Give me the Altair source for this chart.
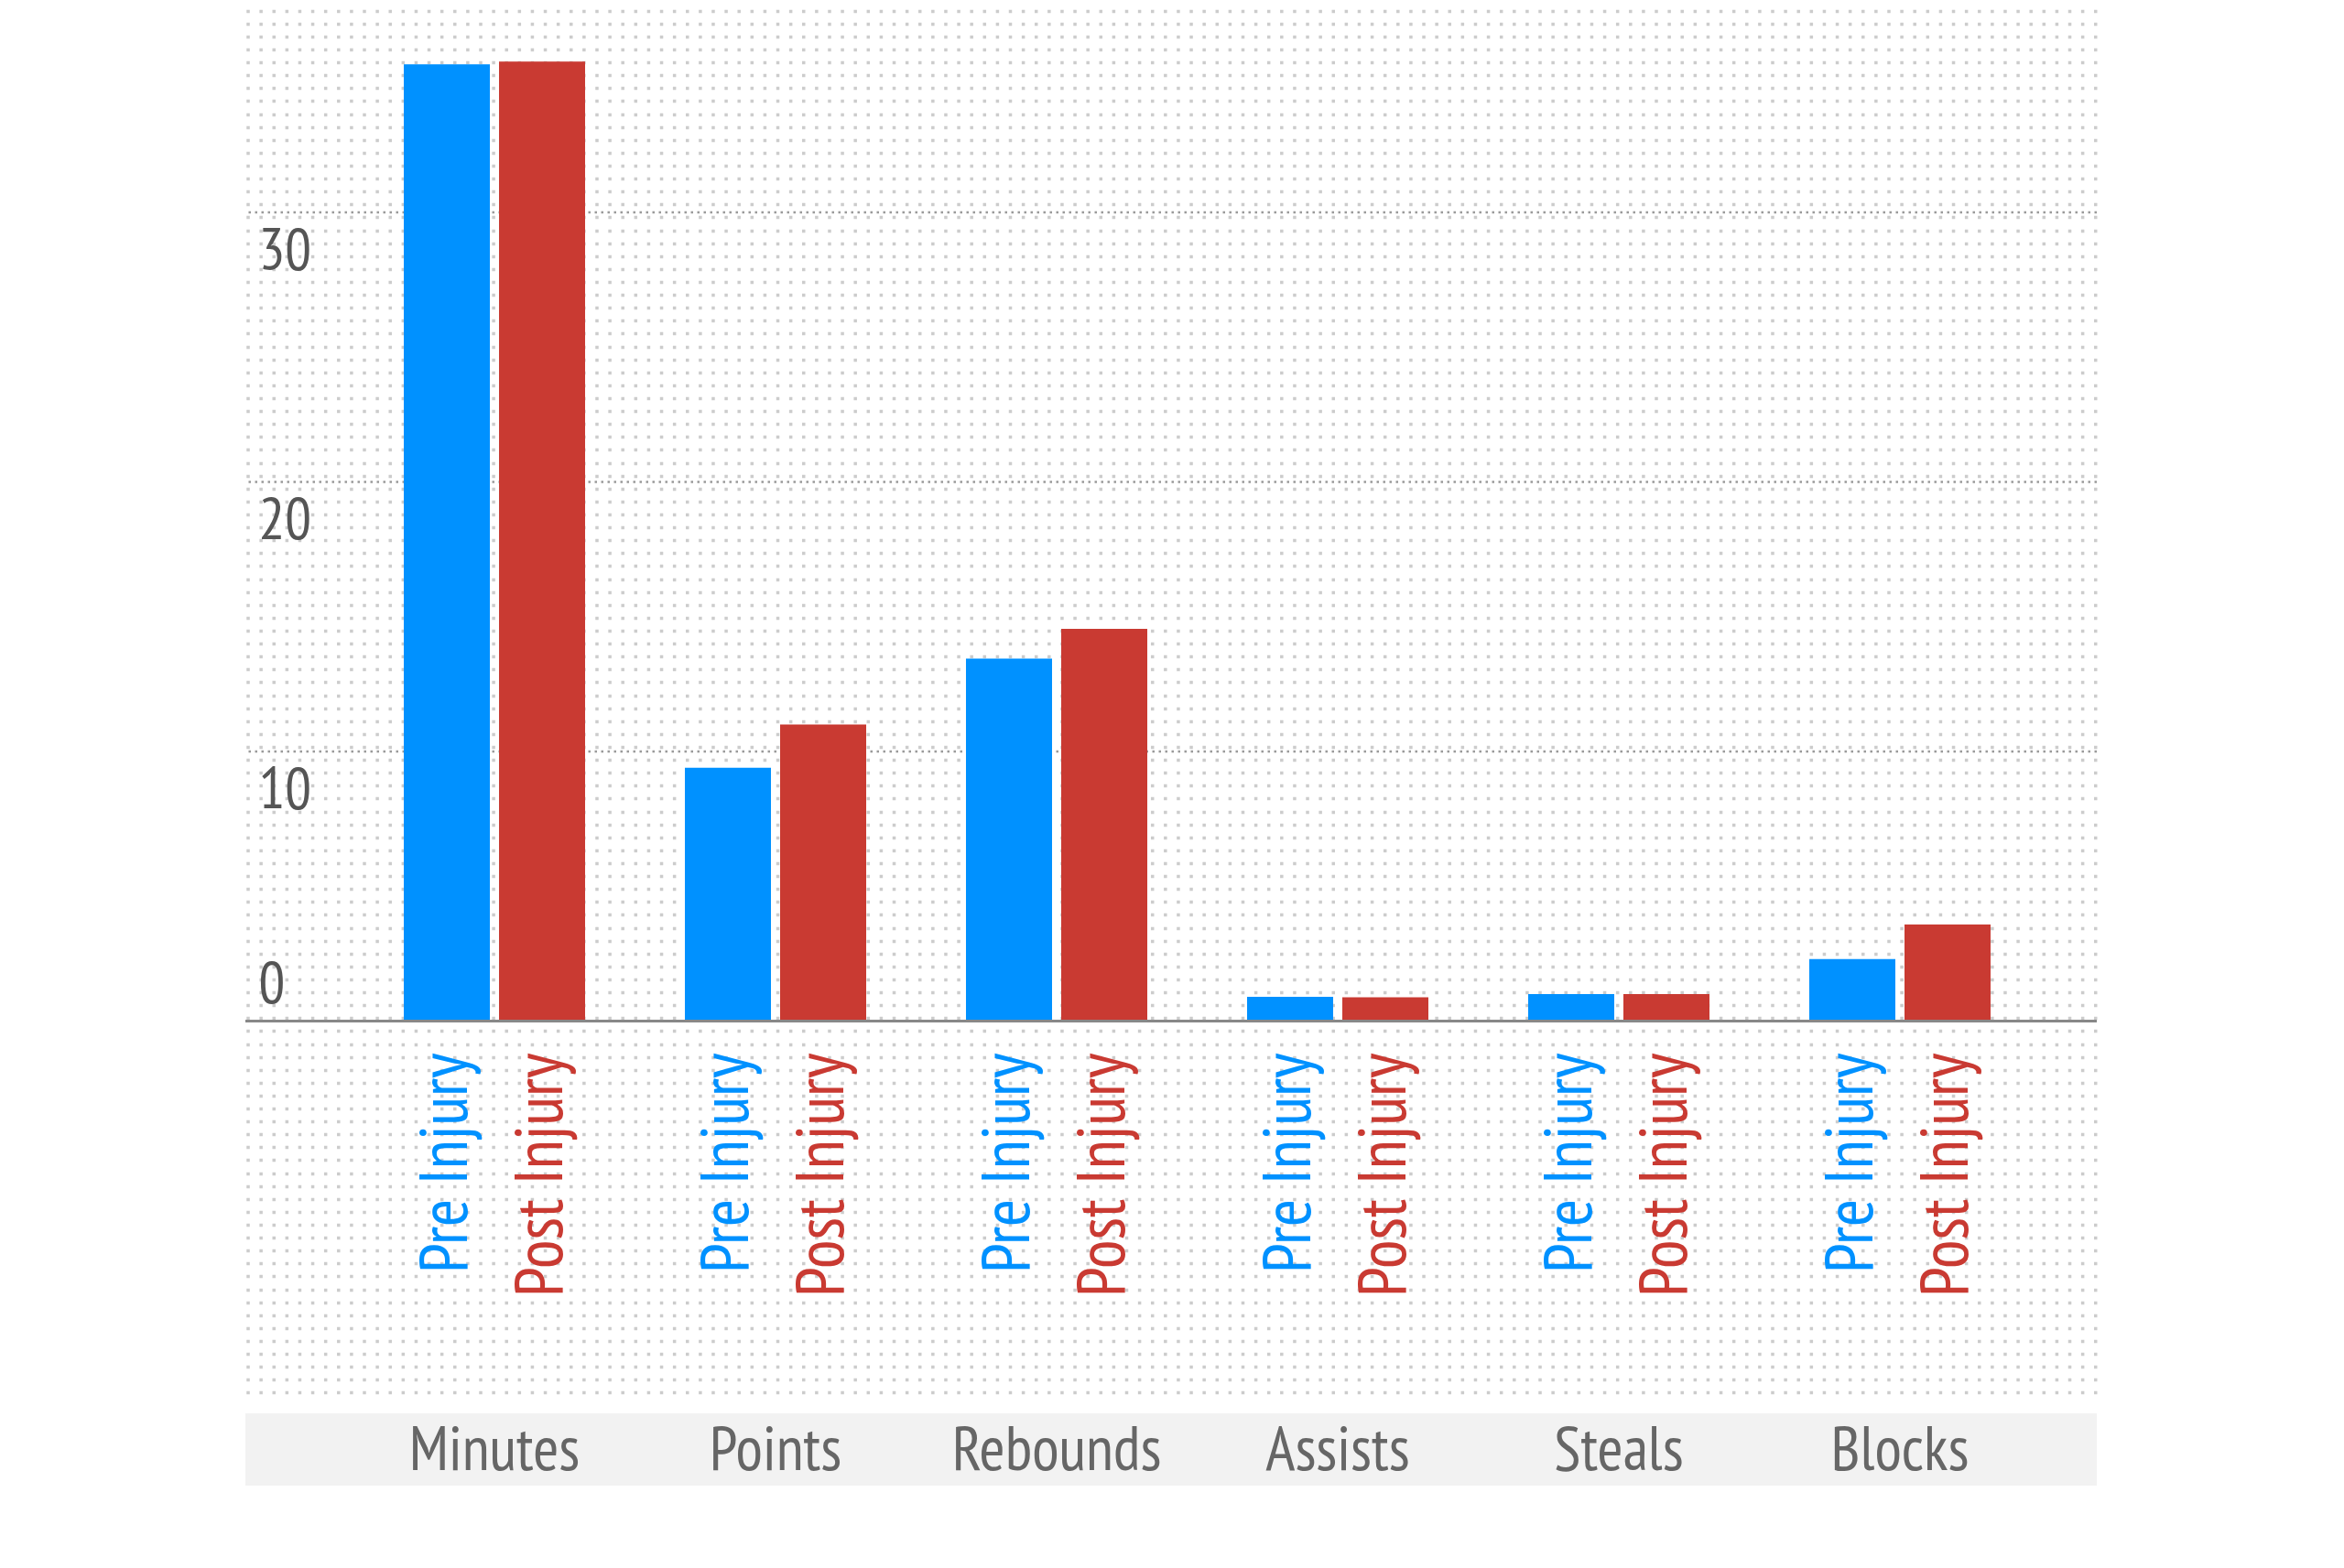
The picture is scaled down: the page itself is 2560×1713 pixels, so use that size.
import altair as alt
import pandas as pd

categories = ["Minutes", "Points", "Rebounds", "Assists", "Steals", "Blocks"]
series = ["Pre Injury", "Post Injury"]
pre_values = [35.5, 9.4, 13.45, 0.9, 1.0, 2.3]
post_values = [35.6, 11.0, 14.55, 0.88, 1.0, 3.58]
y_ticks = [0, 10, 20, 30]
series_colors = ["#0091ff", "#c93a32"]

rows = []
for c, a, b in zip(categories, pre_values, post_values):
    rows.append({"stat": c, "period": series[0], "value": a})
    rows.append({"stat": c, "period": series[1], "value": b})
df = pd.DataFrame(rows)

W, H = 2022, 1520
FONT = "Liberation Sans Narrow, PT Sans Narrow, Roboto, sans-serif"

y_scale = alt.Scale(domain=[-14.01, 37.61], nice=False, zero=False)
x_scale = alt.Scale(range=[118.5, 1960.5], paddingInner=0.355, paddingOuter=0.1775)
xoff_scale = alt.Scale(paddingInner=0.0962, paddingOuter=0)
color_scale = alt.Scale(domain=series, range=series_colors)

x_axis = alt.Axis(
    title=None, labelAngle=0, ticks=False, tickSize=0, domain=False, grid=False,
    labelFont=FONT, labelFontSize=68, labelColor="#666666", labelLimit=0,
    labelBaseline="alphabetic", labelPadding=77, zindex=2,
)
y_axis = alt.Axis(
    title=None, values=y_ticks, grid=False, ticks=False, tickSize=0, domain=False,
    labelAlign="left", labelPadding=-14, labelFont=FONT, labelFontSize=64,
    labelColor="#555555", labelBaseline="top", labelLimit=0,
    labelOffset={"condition": {"test": "datum.value == 0", "value": -72}, "value": 10},
)

base = alt.Chart(df)

grid_rules = alt.Chart(pd.DataFrame({"value": y_ticks[1:]})).mark_rule(
    color="#9a9a9a", strokeWidth=2.5, strokeDash=[2.5, 4.5]
).encode(y=alt.Y("value:Q", scale=y_scale, axis=y_axis))

bars = base.mark_bar().encode(
    x=alt.X("stat:N", sort=categories, scale=x_scale, axis=x_axis),
    xOffset=alt.XOffset("period:N", sort=series, scale=xoff_scale),
    y=alt.Y("value:Q", scale=y_scale, axis=y_axis),
    color=alt.Color("period:N", sort=series, scale=color_scale, legend=None),
)

baseline = alt.Chart(pd.DataFrame({"value": [0]})).mark_rule(color="#888888", strokeWidth=3).encode(
    y=alt.Y("value:Q", scale=y_scale, axis=y_axis)
)

labels = base.mark_text(
    angle=270, align="right", baseline="middle", dx=-35, font=FONT, fontSize=73
).encode(
    x=alt.X("stat:N", sort=categories, scale=x_scale, axis=x_axis),
    xOffset=alt.XOffset("period:N", sort=series, scale=xoff_scale),
    y=alt.Y("z:Q", scale=y_scale, axis=y_axis),
    text="period:N",
    color=alt.Color("period:N", sort=series, scale=color_scale, legend=None),
).transform_calculate(z="0")

main = alt.layer(grid_rules, bars, baseline, labels)

# dotted background texture
dot_rows = [3.7 + 14.11 * i for i in range(108)]
dots = alt.Chart(pd.DataFrame({"v": [0]})).mark_point(opacity=0).encode(
    y=alt.Y(
        "v:Q",
        scale=alt.Scale(domain=[0, H], reverse=True, nice=False, zero=False),
        axis=alt.Axis(
            orient="right", values=dot_rows, grid=True, gridDash=[3.5, 10.61],
            gridColor="#cccccc", gridWidth=3.5, labels=False, ticks=False,
            domain=False, title=None,
        ),
    )
)

band = alt.Chart(pd.DataFrame({"b": [0]})).mark_rect(color="#f2f2f2").encode(
    x=alt.value(0), x2=alt.value(W), y=alt.value(H + 16), y2=alt.value(H + 95)
)

chart = alt.layer(dots, band, main).resolve_scale(y="independent").properties(
    width=W, height=H,
    autosize=alt.AutoSizeParams(type="none"),
    padding={"left": 260, "top": 0, "right": 20, "bottom": 130},
    background="white",
).configure_view(stroke=None)

chart.save("out.html", embed_options={"renderer": "svg", "actions": False})
